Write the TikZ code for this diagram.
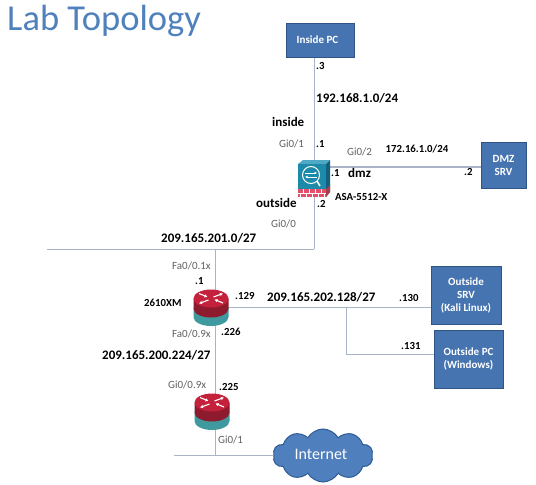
\documentclass[tikz,border=0pt]{standalone}
\usepackage{fontspec}
\setmainfont{Carlito}
\usetikzlibrary{shapes.symbols,arrows.meta}
\definecolor{boxfill}{HTML}{4674B0}
\definecolor{boxedge}{HTML}{2F5585}
\definecolor{linkc}{HTML}{A9B4C6}
\definecolor{titlec}{HTML}{4F81BD}
\definecolor{cloudfill}{HTML}{4F7FBC}
\definecolor{cloudedge}{HTML}{2D5C94}
\definecolor{tealb}{HTML}{3E9A9E}
\definecolor{redr}{HTML}{C4213C}
\definecolor{redd}{HTML}{8E1A2E}
\definecolor{asaf}{HTML}{1C8AA8}
\definecolor{asat}{HTML}{4FA9C4}
\definecolor{asas}{HTML}{12607E}
\definecolor{asar}{HTML}{E4506A}
\tikzset{
  hostbox/.style={draw=boxedge,line width=1pt,fill=boxfill,inner sep=0pt},
  hosttext/.style={text=white,font=\bfseries\fontsize{11}{13}\selectfont,align=center,inner sep=0pt},
  link/.style={draw=linkc,line width=1pt},
  biglabel/.style={font=\bfseries\fontsize{13}{15}\selectfont,text=black,inner sep=0pt},
  midlabel/.style={font=\bfseries\fontsize{10.8}{13}\selectfont,text=black,inner sep=0pt},
  smalllabel/.style={font=\fontsize{11}{13}\selectfont,text=black!62,inner sep=0pt},
  iconbox/.style={inner sep=0pt,minimum width=#1},
  rarrow/.style={white,line width=1.1pt,-{Latex[length=3pt,width=3.5pt]}}
}
\newcommand{\routericon}[2]{%
  \begin{scope}[shift={(#1,#2)}]
    \fill[tealb] (-17.5,0) -- (-17.5,9.5) arc[start angle=180,end angle=0,x radius=17.5,y radius=9] -- (17.5,0) -- cycle;
    \fill[redd] (-17.5,-9) -- (-17.5,1) arc[start angle=180,end angle=0,x radius=17.5,y radius=9] -- (17.5,-9) -- cycle;
    \fill[redr] (0,-9) ellipse[x radius=17.5,y radius=9];
    \draw[rarrow] (-12,-14) -- (-3.5,-10.5);
    \draw[rarrow] (12,-4.5) -- (3.5,-8);
    \draw[rarrow] (-2.5,-7.5) -- (-12,-4);
    \draw[rarrow] (2.5,-10.5) -- (12,-14);
  \end{scope}}
\begin{document}
\begin{tikzpicture}[x=1pt,y=-1pt]
\useasboundingbox (0,0) rectangle (536,485);
\fill[white] (0,0) rectangle (536,485);
% hosts
\node[hostbox,minimum width=68,minimum height=34,hosttext] (insidepc) at (320,40) {\hspace{-5pt}Inside PC};
\node[hostbox,minimum width=45,minimum height=46,hosttext] (dmzsrv) at (503.5,165) {DMZ\\SRV};
\node[hostbox,minimum width=70,minimum height=58,hosttext] (outsrv) at (466,295) {Outside\\SRV\\(Kali Linux)};
\node[hostbox,minimum width=69,minimum height=58,hosttext] (outpc) at (468.5,359) {Outside PC\\(Windows)};
\node[cloud,cloud puffs=10,cloud puff arc=120,aspect=2,draw=cloudedge,line width=1pt,fill=cloudfill,inner sep=0pt,minimum width=100,minimum height=53] (internet) at (323,455.5) {};
\node[text=white,font=\fontsize{16}{18}\selectfont,inner sep=0pt] (internetlabel) at (321,454) {Internet};
% device anchors
\node[iconbox=32,minimum height=37] (asa) at (314,178.5) {};
\node[iconbox=35,minimum height=37] (r1) at (215,307.5) {};
\node[iconbox=35,minimum height=37] (r2) at (215,411.5) {};
\coordinate (dmzPort) at (481,167);
\coordinate (busLeft) at (47,249);
\coordinate (busAsa) at (314,249);
\coordinate (busR1) at (215,249);
\coordinate (netLeft) at (174,455);
\coordinate (netR2) at (215,455);
\coordinate (branch) at (346,308);
\coordinate (branchLow) at (346,354);
% links
\draw[link] (insidepc.south -| asa.north) -- (asa.north);
\draw[link,line width=1.4pt] (asa.east |- dmzPort) -- (dmzPort);
\draw[link] (asa.south) -- (busAsa);
\draw[link] (busLeft) -- (busAsa);
\draw[link] (busR1) -- (netR2);
\draw[link] (netLeft) -- (internet.west |- netLeft);
\draw[link] (r1.center) -- (outsrv.west |- r1.center);
\draw[link] (branch) -- (branchLow) -- (outpc.west |- branchLow);
% routers
\routericon{211}{307.5}
\routericon{212}{411.5}
% ASA
\fill[asat] (298,164) -- (303,160) -- (330,160) -- (326,164) -- cycle;
\fill[asas] (326,164) -- (330,160) -- (330,192) -- (326,197) -- cycle;
\fill[asaf] (298,164) rectangle (326,189);
\fill[asar] (298,189) rectangle (326,197);
\fill[asar!75!black] (326,189) -- (330,185) -- (330,192) -- (326,197) -- cycle;
\draw[white,line width=.5pt] (298,193) -- (326,193);
\foreach \px in {303,309,315,321}{\draw[white,line width=.4pt] (\px,189) -- (\px,193);}
\foreach \px in {300,306,312,318,324}{\draw[white,line width=.4pt] (\px,193) -- (\px,197);}
\draw[white,line width=1pt] (311,175) circle[radius=8.5];
\draw[white,line width=1.6pt] (317,181) -- (320,186);
\draw[white,line width=.8pt,-{Latex[length=2.5pt,width=3pt]}] (305,173) -- (317,173);
\draw[white,line width=.8pt,-{Latex[length=2.5pt,width=3pt]}] (317,177) -- (305,177);
% title
\node[anchor=west,text=titlec,font=\fontsize{36.5}{40}\selectfont,inner sep=0pt] (title) at (7,21) {Lab Topology};
% labels
\node[midlabel,anchor=west] (l3) at (316,65.5) {.3};
\node[biglabel,anchor=west] (n192) at (316,98.5) {192.168.1.0/24};
\node[biglabel,anchor=west] (linside) at (272,122) {inside};
\node[smalllabel,anchor=west] (g01) at (279,144) {Gi0/1};
\node[midlabel,anchor=west] (l1a) at (316,144) {.1};
\node[smalllabel,anchor=west] (g02) at (347,151.5) {Gi0/2};
\node[midlabel,anchor=west] (n172) at (385.5,149) {172.16.1.0/24};
\node[midlabel,anchor=west] (l1b) at (331,173.5) {.1};
\node[biglabel,anchor=west] (ldmz) at (348,173) {dmz};
\node[midlabel,anchor=west] (l2a) at (464,172) {.2};
\node[midlabel,anchor=west] (asaname) at (335,197) {ASA-5512-X};
\node[biglabel,anchor=west] (loutside) at (256,202.5) {outside};
\node[midlabel,anchor=west] (l2b) at (317,203.5) {.2};
\node[smalllabel,anchor=west] (g00) at (271,223.5) {Gi0/0};
\node[biglabel,anchor=west] (n201) at (161,238) {209.165.201.0/27};
\node[smalllabel,anchor=west] (fa01) at (172,266) {Fa0/0.1x};
\node[midlabel,anchor=west] (l1c) at (195,281.5) {.1};
\node[midlabel,anchor=west] (rname) at (144,303) {2610XM};
\node[midlabel,anchor=west] (l129) at (235,296) {.129};
\node[biglabel,anchor=west] (n202) at (267,297) {209.165.202.128/27};
\node[midlabel,anchor=west] (l130) at (399,298) {.130};
\node[midlabel,anchor=west] (l131) at (401,345.5) {.131};
\node[smalllabel,anchor=west] (fa09) at (172,334) {Fa0/0.9x};
\node[midlabel,anchor=west] (l226) at (221,332) {.226};
\node[biglabel,anchor=west] (n200) at (102,355) {209.165.200.224/27};
\node[smalllabel,anchor=west] (g009) at (168,384.5) {Gi0/0.9x};
\node[midlabel,anchor=west] (l225) at (219,387) {.225};
\node[smalllabel,anchor=west] (g011) at (218,440) {Gi0/1};
\end{tikzpicture}
\end{document}
